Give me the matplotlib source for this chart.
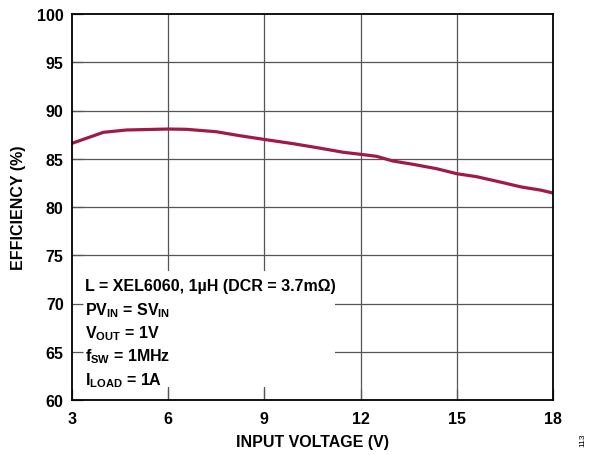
import matplotlib
matplotlib.use("Agg")
import matplotlib.pyplot as plt
from matplotlib.patches import Rectangle

plt.rcParams['font.family'] = ['Liberation Sans', 'DejaVu Sans']
plt.rcParams['font.weight'] = 'bold'
plt.rcParams['mathtext.fontset'] = 'custom'
plt.rcParams['mathtext.rm'] = 'Liberation Sans:bold'
plt.rcParams['mathtext.bf'] = 'Liberation Sans:bold'
plt.rcParams['mathtext.it'] = 'Liberation Sans:bold'

# dados
vin = [3.0, 3.98, 4.7, 6.0, 6.57, 7.5, 8.23, 9.0, 9.9, 10.73, 11.46, 12.0,
       12.5, 13.0, 13.64, 14.37, 15.0, 15.62, 16.35, 17.02, 17.6, 18.0]
eff = [86.6, 87.74, 87.98, 88.08, 88.05, 87.8, 87.39, 87.0, 86.56, 86.1, 85.67, 85.46,
       85.25, 84.77, 84.42, 83.97, 83.45, 83.14, 82.59, 82.07, 81.76, 81.45]
xticks = [3, 6, 9, 12, 15, 18]
yticks = [60, 65, 70, 75, 80, 85, 90, 95, 100]
notes = [r'L = XEL6060, 1µH (DCR = 3.7mΩ)',
         r'PV$_{IN}$ = SV$_{IN}$',
         r'V$_{OUT}$ = 1V',
         r'f$_{SW}$ = 1MHz',
         r'I$_{LOAD}$ = 1A']

fs = 11.5

fig = plt.figure(figsize=(5.91, 4.56), dpi=100)
ax = fig.add_axes([72/591, 1-401/456, 481/591, 386/456])

# grelha desenhada à mão para ficar por baixo da caixa de texto
for x in xticks[1:-1]:
    ax.axvline(x, color='#555555', lw=0.9, zorder=0.5)
for y in yticks[1:-1]:
    ax.axhline(y, color='#555555', lw=0.9, zorder=0.5)

ax.add_patch(Rectangle((0, 0.034), 0.547, 0.30, transform=ax.transAxes,
                       facecolor='white', edgecolor='none', zorder=1))

ax.plot(vin, eff, color='#a11a46', lw=2.3, zorder=3)

ax.set_xlim(3, 18)
ax.set_ylim(60, 100)
ax.set_xticks(xticks)
ax.set_yticks(yticks)
ax.tick_params(direction='in', length=8, width=0.9, color='#555555',
               labelsize=fs, pad=6)
ax.tick_params(axis='x', pad=8)
for s in ax.spines.values():
    s.set_linewidth(1.3)
    s.set_zorder(4)

ax.set_xlabel('INPUT VOLTAGE (V)', fontsize=fs, fontweight='bold', labelpad=6)
ax.set_ylabel('EFFICIENCY (%)', fontsize=fs, fontweight='bold', labelpad=8)

y0 = 287
for i, t in enumerate(notes):
    ax.text(13/481, (401 - (y0 + i*23.3))/386, t, transform=ax.transAxes,
            fontsize=fs, fontweight='bold', va='center', ha='left', zorder=5)

fig.text(583/591, 1-440/456, '113', rotation=90, fontsize=6, fontweight='normal',
         ha='center', va='center')

fig.savefig('out.png', dpi=100)
